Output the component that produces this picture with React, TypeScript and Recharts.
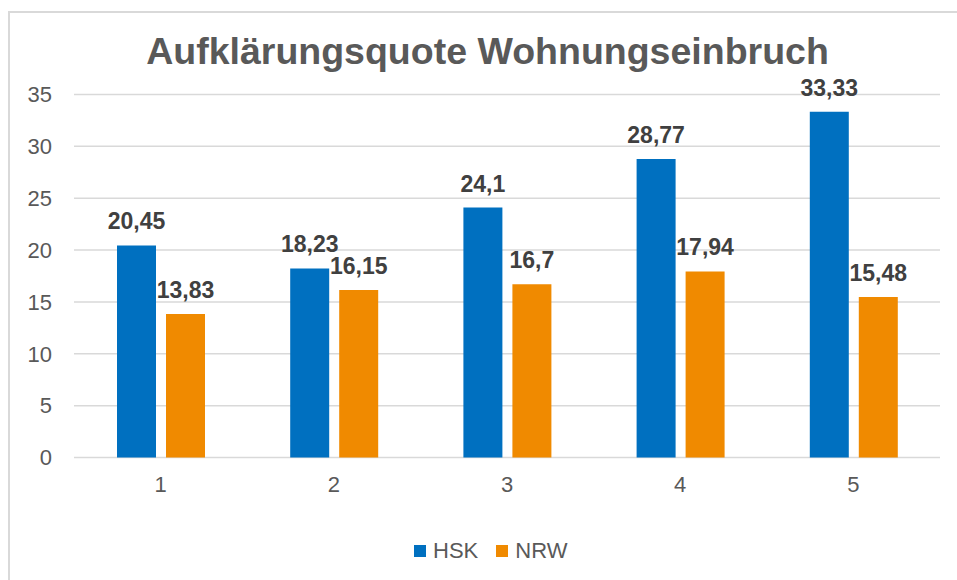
import { BarChart, Bar, XAxis, YAxis, CartesianGrid, LabelList } from "recharts";

const categories = ["1", "2", "3", "4", "5"];
const hskValues = [20.45, 18.23, 24.1, 28.77, 33.33];
const nrwValues = [13.83, 16.15, 16.7, 17.94, 15.48];
const yTicks = [0, 5, 10, 15, 20, 25, 30, 35];

const BLUE = "#0070C0";
const ORANGE = "#F08A00";
const FONT = "'Liberation Sans', Arial, sans-serif";

const data = categories.map((label, i) => ({
  label,
  HSK: hskValues[i],
  NRW: nrwValues[i],
}));

const fmt = (v: any) => String(v).replace(".", ",");

export default function App() {
  return (
    <div
      style={{
        position: "fixed",
        left: 0,
        top: 0,
        width: 957,
        height: 580,
        overflow: "hidden",
        background: "#fff",
        fontFamily: FONT,
      }}
    >
      <div
        style={{
          position: "absolute",
          left: 8,
          top: 11,
          width: 980,
          height: 600,
          borderTop: "2px solid #d9d9d9",
          borderLeft: "2px solid #d9d9d9",
        }}
      />
      <div
        style={{
          position: "absolute",
          left: 0,
          top: 33,
          width: 975,
          textAlign: "center",
          fontSize: 37.5,
          lineHeight: "37.5px",
          fontWeight: "bold",
          color: "#595959",
        }}
      >
        Aufklärungsquote Wohnungseinbruch
      </div>
      <div style={{ position: "absolute", left: 0, top: 0 }}>
        <BarChart
          width={957}
          height={580}
          data={data}
          margin={{ top: 94.5, right: 17, bottom: 92.5, left: 14 }}
          barSize={39}
          barGap={10}
        >
          <CartesianGrid vertical={false} stroke="#d9d9d9" strokeWidth={1.5} />
          <XAxis
            dataKey="label"
            axisLine={false}
            tickLine={false}
            height={30}
            tickMargin={13}
            tick={{ fontSize: 22, fill: "#595959", fontFamily: FONT }}
          />
          <YAxis
            domain={[0, 35]}
            ticks={yTicks}
            axisLine={false}
            tickLine={false}
            width={60}
            tickMargin={16}
            tick={{ fontSize: 22, fill: "#595959", fontFamily: FONT }}
          />
          <Bar dataKey="HSK" fill={BLUE} isAnimationActive={false}>
            <LabelList
              dataKey="HSK"
              position="top"
              offset={16}
              formatter={fmt}
              style={{ fontSize: 23, fontWeight: "bold", fill: "#404040", fontFamily: FONT }}
            />
          </Bar>
          <Bar dataKey="NRW" fill={ORANGE} isAnimationActive={false}>
            <LabelList
              dataKey="NRW"
              position="top"
              offset={16}
              formatter={fmt}
              style={{ fontSize: 23, fontWeight: "bold", fill: "#404040", fontFamily: FONT }}
            />
          </Bar>
        </BarChart>
      </div>
      <div
        style={{
          position: "absolute",
          left: 414,
          top: 538,
          height: 26,
          display: "flex",
          alignItems: "center",
          fontSize: 22,
          color: "#595959",
        }}
      >
        <span style={{ width: 12, height: 12, background: BLUE, marginRight: 7 }} />
        <span style={{ marginRight: 18 }}>HSK</span>
        <span style={{ width: 12, height: 12, background: ORANGE, marginRight: 7 }} />
        <span>NRW</span>
      </div>
    </div>
  );
}
